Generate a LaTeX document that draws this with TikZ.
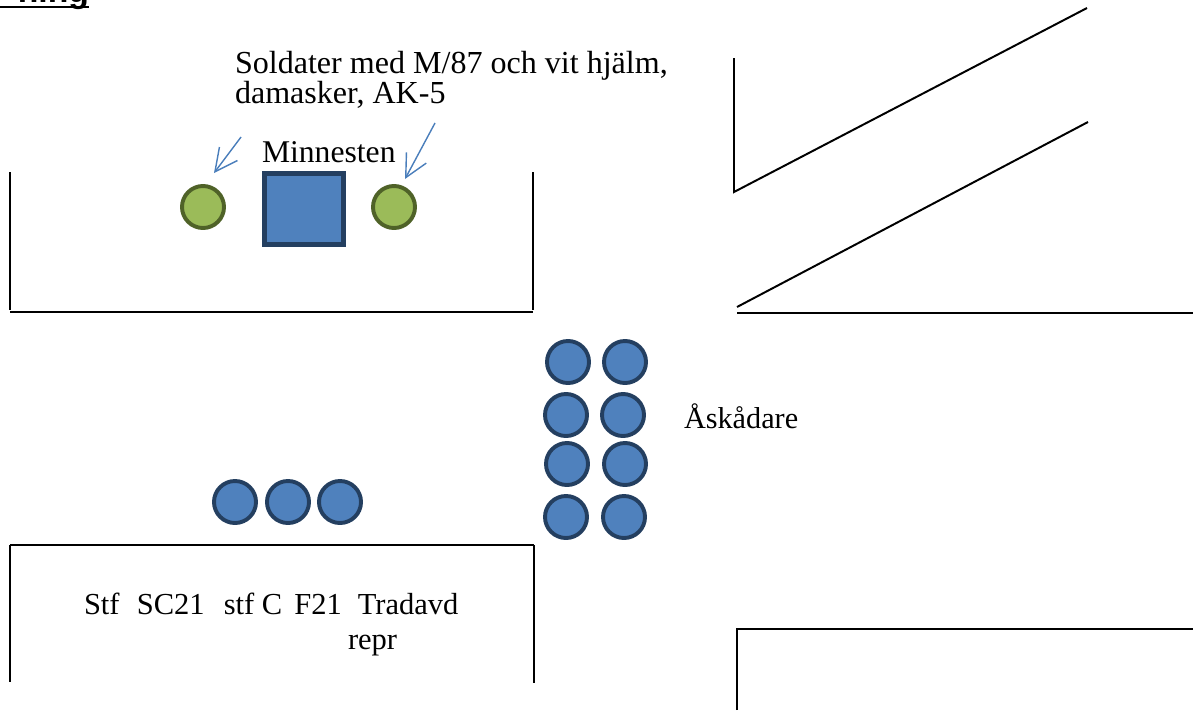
\documentclass[tikz,border=0pt]{standalone}
\usepackage{fontspec}
\setmainfont{Liberation Serif}
\newfontfamily\headfont{Liberation Sans}
\usetikzlibrary{arrows.meta}
\definecolor{gfill}{HTML}{9BBB59}
\definecolor{gline}{HTML}{4F6228}
\definecolor{bfill}{HTML}{4F81BD}
\definecolor{bline}{HTML}{243F60}
\definecolor{arrowc}{HTML}{4A7EBB}
\begin{document}
\begin{tikzpicture}[x=0.025cm,y=-0.025cm,
  wall/.style={line width=1.4pt, draw=black},
  soldier/.style={circle, draw=gline, fill=gfill, line width=2.8pt, minimum size=1.05cm, inner sep=0pt},
  person/.style={circle, draw=bline, fill=bfill, line width=2.8pt, minimum size=1.05cm, inner sep=0pt},
  stone/.style={rectangle, draw=bline, fill=bfill, line width=3.4pt, minimum width=1.975cm, minimum height=1.775cm, inner sep=0pt},
  pointer/.style={draw=arrowc, line width=1pt, -{Straight Barb[length=16pt,width=16pt]}},
  lbl/.style={inner sep=0pt, outer sep=0pt, text=black}
]
\useasboundingbox (0,0) rectangle (1200,710);

% heading (cut off at top)
\node[lbl, anchor=base east, font=\headfont\bfseries\fontsize{24}{26}\selectfont] (head) at (89,3) {ning};
\coordinate (ul0) at (0,7);
\coordinate (ul1) at (89,7);
\draw[line width=1.6pt] (ul0) -- (ul1);

% walls
\draw[wall] (10,172) -- (10,310);
\draw[wall] (533,172) -- (533,310);
\draw[wall] (10,312) -- (533,312);
\draw[wall] (734,58) -- (734,192) -- (1087,8);
\draw[wall] (737,307) -- (1088,122);
\draw[wall] (737,313) -- (1193,313);
\draw[wall] (10,545) -- (534,545);
\draw[wall] (10,545) -- (10,682);
\draw[wall] (534,545) -- (534,683);
\draw[wall] (737,710) -- (737,629) -- (1193,629);

% memorial stone and guards
\node[stone] (stone) at (304,209) {};
\node[soldier] (g1) at (203,207) {};
\node[soldier] (g2) at (394,207) {};
\node[lbl, anchor=base west, font=\fontsize{22.5}{24}\selectfont] (minn) at (262,162) {Minnesten};
\node[lbl, anchor=north west, align=left, font=\fontsize{22.8}{21.3}\selectfont] (sold) at (235,51) {Soldater med M/87 och vit hjälm,\\damasker, AK-5};
\coordinate (a1s) at (241,137);
\coordinate (a1e) at (214,173);
\coordinate (a2s) at (435,123);
\coordinate (a2e) at (405,179);
\draw[pointer] (a1s) -- (a1e);
\draw[pointer] (a2s) -- (a2e);

% spectators
\node[person] (s11) at (568,362) {};
\node[person] (s12) at (625,362) {};
\node[person] (s21) at (566,415) {};
\node[person] (s22) at (623,415) {};
\node[person] (s31) at (567,464) {};
\node[person] (s32) at (625,464) {};
\node[person] (s41) at (566,517) {};
\node[person] (s42) at (624,517) {};
\node[lbl, anchor=base west, font=\fontsize{21.5}{24}\selectfont] (ask) at (684,428) {Åskådare};

% staff
\node[person] (p1) at (235,502) {};
\node[person] (p2) at (288,502) {};
\node[person] (p3) at (340,502) {};
\node[lbl, anchor=base west, font=\fontsize{21.7}{24}\selectfont] (staff) at (84,614) {Stf\hspace{0.43cm}SC21\hspace{0.48cm}stf C\hspace{0.3cm}F21\hspace{0.4cm}Tradavd};
\node[lbl, anchor=base west, font=\fontsize{21.7}{24}\selectfont] (repr) at (348,649) {repr};
\end{tikzpicture}
\end{document}
